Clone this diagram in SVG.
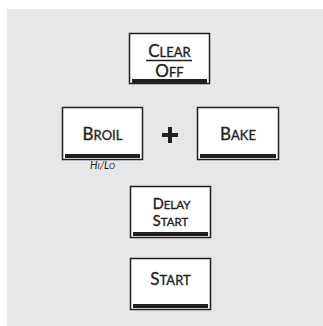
<svg xmlns="http://www.w3.org/2000/svg" width="323" height="326" viewBox="0 0 323 326">
<style>
.box{fill:#fff;stroke:#231f20;stroke-width:1.5}
.bar{fill:#231f20}
.t{font-family:Lato,"Open Sans","Liberation Sans",sans-serif;fill:#231f20;stroke:#231f20;stroke-width:0.35;text-anchor:middle;font-size:17px}
.s{font-size:13px}
.d{font-size:14.5px}
.d .s{font-size:11.5px}
.hl{font-family:Lato,"Open Sans","Liberation Sans",sans-serif;fill:#231f20;text-anchor:middle;font-style:italic;font-size:10.5px}
.hl .s{font-size:8px}
</style>
<rect x="7" y="9" width="316" height="317" fill="#e6e7e8"/>
<g id="clear-off">
<rect class="box" x="129.5" y="33.5" width="80" height="50"/>
<rect class="bar" x="132" y="79" width="75" height="4"/>
<text class="t" x="169.5" y="57">C<tspan class="s">LEAR</tspan></text>
<line x1="146" y1="60.5" x2="192" y2="60.5" stroke="#231f20" stroke-width="1.5"/>
<text class="t" x="169.5" y="77">O<tspan class="s">FF</tspan></text>
</g>
<g id="broil">
<rect class="box" x="62.5" y="107.5" width="80" height="52"/>
<rect class="bar" x="65" y="154" width="75" height="4"/>
<text class="t" x="102.5" y="140">B<tspan class="s">ROIL</tspan></text>
<text class="hl" x="102.5" y="169">H<tspan class="s">I</tspan>/L<tspan class="s">O</tspan></text>
</g>
<g id="plus">
<path d="M162,135H178M170,127V143" stroke="#231f20" stroke-width="4" fill="none"/>
</g>
<g id="bake">
<rect class="box" x="197.5" y="107.5" width="81" height="52"/>
<rect class="bar" x="200" y="154" width="76" height="4"/>
<text class="t" x="238" y="140">B<tspan class="s">AKE</tspan></text>
</g>
<g id="delay-start">
<rect class="box" x="130.5" y="186.5" width="80" height="51"/>
<rect class="bar" x="133" y="232" width="75" height="4"/>
<text class="t d" x="171.5" y="208.5">D<tspan class="s">ELAY</tspan></text>
<text class="t d" x="170.5" y="226">S<tspan class="s">TART</tspan></text>
</g>
<g id="start">
<rect class="box" x="130.5" y="258.5" width="80" height="51"/>
<rect class="bar" x="133" y="304" width="75" height="4"/>
<text class="t" x="170.5" y="285">S<tspan class="s">TART</tspan></text>
</g>
</svg>
